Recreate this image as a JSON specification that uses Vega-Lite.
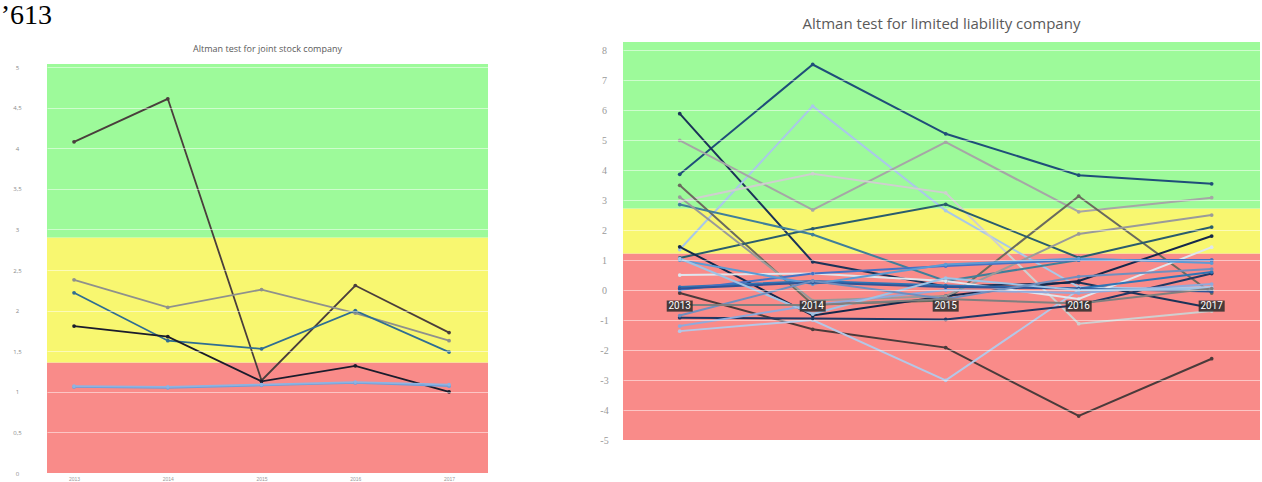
{
  "$schema": "https://vega.github.io/schema/vega-lite/v6.json",
  "background": "white",
  "padding": {"left": 0, "top": 2, "right": 0, "bottom": 0},
  "title": {"text": "’613", "anchor": "start", "font": "Liberation Serif", "fontSize": 28, "fontWeight": "normal", "color": "#000000", "offset": -13, "dx": -12},
  "spacing": 135,
  "bounds": "flush",
  "resolve": {"scale": {"x": "independent", "y": "independent", "fill": "independent", "color": "independent"}},
  "config": {"view": {"stroke": null}, "axis": {"labelOverlap": false}},
  "datasets": {
    "leftBands": [
      {"zone": "distress", "lo": 0, "hi": 1.36},
      {"zone": "grey", "lo": 1.36, "hi": 2.9},
      {"zone": "safe", "lo": 2.9, "hi": 5.04}
    ],
    "rightBands": [
      {"zone": "distress", "lo": -5, "hi": 1.22},
      {"zone": "grey", "lo": 1.22, "hi": 2.72},
      {"zone": "safe", "lo": 2.72, "hi": 8.27}
    ],
    "years": [{"year": "2013"}, {"year": "2014"}, {"year": "2015"}, {"year": "2016"}, {"year": "2017"}],
    "joint": [
      {"series": "s1", "year": "2013", "value": 4.08}, {"series": "s1", "year": "2014", "value": 4.61}, {"series": "s1", "year": "2015", "value": 1.14}, {"series": "s1", "year": "2016", "value": 2.31}, {"series": "s1", "year": "2017", "value": 1.73},
      {"series": "s2", "year": "2013", "value": 2.38}, {"series": "s2", "year": "2014", "value": 2.04}, {"series": "s2", "year": "2015", "value": 2.26}, {"series": "s2", "year": "2016", "value": 1.97}, {"series": "s2", "year": "2017", "value": 1.63},
      {"series": "s3", "year": "2013", "value": 2.22}, {"series": "s3", "year": "2014", "value": 1.63}, {"series": "s3", "year": "2015", "value": 1.53}, {"series": "s3", "year": "2016", "value": 2.0}, {"series": "s3", "year": "2017", "value": 1.49},
      {"series": "s4", "year": "2013", "value": 1.81}, {"series": "s4", "year": "2014", "value": 1.68}, {"series": "s4", "year": "2015", "value": 1.13}, {"series": "s4", "year": "2016", "value": 1.32}, {"series": "s4", "year": "2017", "value": 1.0},
      {"series": "s5", "year": "2013", "value": 1.06}, {"series": "s5", "year": "2014", "value": 1.05}, {"series": "s5", "year": "2015", "value": 1.08}, {"series": "s5", "year": "2016", "value": 1.11}, {"series": "s5", "year": "2017", "value": 1.07},
      {"series": "s6", "year": "2013", "value": 1.07}, {"series": "s6", "year": "2014", "value": 1.06}, {"series": "s6", "year": "2015", "value": 1.09}, {"series": "s6", "year": "2016", "value": 1.12}, {"series": "s6", "year": "2017", "value": 1.09}
    ],
    "llc": [
      {"series": "r01", "year": "2013", "value": 3.86}, {"series": "r01", "year": "2014", "value": 7.52}, {"series": "r01", "year": "2015", "value": 5.21}, {"series": "r01", "year": "2016", "value": 3.83}, {"series": "r01", "year": "2017", "value": 3.54},
      {"series": "r02", "year": "2013", "value": 5.88}, {"series": "r02", "year": "2014", "value": 0.94}, {"series": "r02", "year": "2015", "value": 0.12}, {"series": "r02", "year": "2016", "value": 0.25}, {"series": "r02", "year": "2017", "value": -0.6},
      {"series": "r03", "year": "2013", "value": 1.35}, {"series": "r03", "year": "2014", "value": 6.13}, {"series": "r03", "year": "2015", "value": 2.65}, {"series": "r03", "year": "2016", "value": 0.1}, {"series": "r03", "year": "2017", "value": 0.0},
      {"series": "r04", "year": "2013", "value": 4.99}, {"series": "r04", "year": "2014", "value": 2.67}, {"series": "r04", "year": "2015", "value": 4.93}, {"series": "r04", "year": "2016", "value": 2.61}, {"series": "r04", "year": "2017", "value": 3.08},
      {"series": "r05", "year": "2013", "value": 2.95}, {"series": "r05", "year": "2014", "value": 3.88}, {"series": "r05", "year": "2015", "value": 3.24}, {"series": "r05", "year": "2016", "value": -1.12}, {"series": "r05", "year": "2017", "value": -0.7},
      {"series": "r06", "year": "2013", "value": 3.49}, {"series": "r06", "year": "2014", "value": -0.48}, {"series": "r06", "year": "2015", "value": -0.35}, {"series": "r06", "year": "2016", "value": 3.13}, {"series": "r06", "year": "2017", "value": -0.1},
      {"series": "r07", "year": "2013", "value": 1.07}, {"series": "r07", "year": "2014", "value": 2.04}, {"series": "r07", "year": "2015", "value": 2.86}, {"series": "r07", "year": "2016", "value": 1.08}, {"series": "r07", "year": "2017", "value": 2.1},
      {"series": "r08", "year": "2013", "value": 2.85}, {"series": "r08", "year": "2014", "value": 1.85}, {"series": "r08", "year": "2015", "value": 0.3}, {"series": "r08", "year": "2016", "value": 1.0}, {"series": "r08", "year": "2017", "value": 1.0},
      {"series": "r09", "year": "2013", "value": -0.1}, {"series": "r09", "year": "2014", "value": -1.31}, {"series": "r09", "year": "2015", "value": -1.92}, {"series": "r09", "year": "2016", "value": -4.2}, {"series": "r09", "year": "2017", "value": -2.29},
      {"series": "r10", "year": "2013", "value": -1.37}, {"series": "r10", "year": "2014", "value": -1.0}, {"series": "r10", "year": "2015", "value": -3.01}, {"series": "r10", "year": "2016", "value": 0.0}, {"series": "r10", "year": "2017", "value": 0.1},
      {"series": "r11", "year": "2013", "value": -0.92}, {"series": "r11", "year": "2014", "value": -0.95}, {"series": "r11", "year": "2015", "value": -0.98}, {"series": "r11", "year": "2016", "value": -0.5}, {"series": "r11", "year": "2017", "value": 0.55},
      {"series": "r12", "year": "2013", "value": 1.44}, {"series": "r12", "year": "2014", "value": -0.85}, {"series": "r12", "year": "2015", "value": -0.2}, {"series": "r12", "year": "2016", "value": 0.3}, {"series": "r12", "year": "2017", "value": 1.8},
      {"series": "r13", "year": "2013", "value": 3.1}, {"series": "r13", "year": "2014", "value": -0.35}, {"series": "r13", "year": "2015", "value": -0.2}, {"series": "r13", "year": "2016", "value": 1.87}, {"series": "r13", "year": "2017", "value": 2.5},
      {"series": "r14", "year": "2013", "value": 0.5}, {"series": "r14", "year": "2014", "value": 0.55}, {"series": "r14", "year": "2015", "value": 0.3}, {"series": "r14", "year": "2016", "value": -0.3}, {"series": "r14", "year": "2017", "value": 1.43},
      {"series": "r15", "year": "2013", "value": 0.1}, {"series": "r15", "year": "2014", "value": 0.3}, {"series": "r15", "year": "2015", "value": 0.15}, {"series": "r15", "year": "2016", "value": 0.05}, {"series": "r15", "year": "2017", "value": 0.6},
      {"series": "r16", "year": "2013", "value": 0.0}, {"series": "r16", "year": "2014", "value": 0.55}, {"series": "r16", "year": "2015", "value": 0.8}, {"series": "r16", "year": "2016", "value": 1.0}, {"series": "r16", "year": "2017", "value": 1.0},
      {"series": "r17", "year": "2013", "value": 1.0}, {"series": "r17", "year": "2014", "value": 0.2}, {"series": "r17", "year": "2015", "value": 0.85}, {"series": "r17", "year": "2016", "value": 1.05}, {"series": "r17", "year": "2017", "value": 0.9},
      {"series": "r18", "year": "2013", "value": -1.2}, {"series": "r18", "year": "2014", "value": -0.5}, {"series": "r18", "year": "2015", "value": 0.0}, {"series": "r18", "year": "2016", "value": -0.1}, {"series": "r18", "year": "2017", "value": 0.2},
      {"series": "r19", "year": "2013", "value": 0.05}, {"series": "r19", "year": "2014", "value": 0.25}, {"series": "r19", "year": "2015", "value": 0.1}, {"series": "r19", "year": "2016", "value": 0.05}, {"series": "r19", "year": "2017", "value": -0.05},
      {"series": "r20", "year": "2013", "value": 1.05}, {"series": "r20", "year": "2014", "value": -0.8}, {"series": "r20", "year": "2015", "value": 0.4}, {"series": "r20", "year": "2016", "value": 0.0}, {"series": "r20", "year": "2017", "value": 0.05},
      {"series": "r21", "year": "2013", "value": -0.85}, {"series": "r21", "year": "2014", "value": 0.3}, {"series": "r21", "year": "2015", "value": -0.3}, {"series": "r21", "year": "2016", "value": 0.45}, {"series": "r21", "year": "2017", "value": 0.7},
      {"series": "r22", "year": "2013", "value": -0.5}, {"series": "r22", "year": "2014", "value": -0.5}, {"series": "r22", "year": "2015", "value": -0.3}, {"series": "r22", "year": "2016", "value": -0.45}, {"series": "r22", "year": "2017", "value": 0.05}
    ]
  },
  "hconcat": [
    {
      "width": 441,
      "height": 431,
      "title": {"text": "Altman test for joint stock company", "font": "Open Sans", "fontSize": 9, "fontWeight": "normal", "color": "#5a5a5a", "offset": -12, "anchor": "middle"},
      "layer": [
        {
          "data": {"name": "leftBands"},
          "mark": {"type": "rect"},
          "encoding": {
            "y": {"field": "lo", "type": "quantitative", "scale": {"domain": [0, 5.31], "nice": false, "zero": false},
                  "axis": {"values": [0, 0.5, 1, 1.5, 2, 2.5, 3, 3.5, 4, 4.5, 5], "tickCount": 20, "labelExpr": "replace(format(datum.value, '.1~f'), '.', ',')", "labelOverlap": false, "grid": true, "gridColor": "#ffffff", "gridOpacity": 0.5, "domain": false, "ticks": false, "tickSize": 0, "labelPadding": 30, "labelAlign": "center", "labelFontSize": 6, "labelColor": "#8a8a8a", "labelFont": "Open Sans", "title": null, "zindex": 1}},
            "y2": {"field": "hi"},
            "fill": {"field": "zone", "type": "nominal", "scale": {"domain": ["distress", "grey", "safe"], "range": ["#f98b89", "#f8f770", "#9dfa9a"]}, "legend": null}
          }
        },
        {
          "data": {"name": "joint"},
          "mark": {"type": "line", "strokeWidth": 1.8, "point": {"filled": true, "size": 14}},
          "encoding": {
            "x": {"field": "year", "type": "ordinal", "scale": {"type": "point", "padding": 0.352, "align": 0.41},
                  "axis": {"labelFontSize": 5, "labelColor": "#9a9a9a", "ticks": false, "domain": false, "title": null, "labelAngle": 0, "labelPadding": 3, "grid": false}},
            "y": {"field": "value", "type": "quantitative", "scale": {"domain": [0, 5.31], "nice": false, "zero": false}},
            "color": {"field": "series", "type": "nominal", "scale": {"domain": ["s1", "s2", "s3", "s4", "s5", "s6"], "range": ["#4a3e3c", "#8f918c", "#2f6e93", "#1a1c2c", "#6f9fd8", "#8db3e2"]}, "legend": null}
          }
        }
      ]
    },
    {
      "width": 637,
      "height": 398,
      "title": {"text": "Altman test for limited liability company", "font": "Open Sans", "fontSize": 15, "fontWeight": "normal", "color": "#5a5a5a", "offset": 10, "anchor": "middle"},
      "layer": [
        {
          "data": {"name": "rightBands"},
          "mark": {"type": "rect"},
          "encoding": {
            "y": {"field": "lo", "type": "quantitative", "scale": {"domain": [-5, 8.27], "nice": false, "zero": false},
                  "axis": {"values": [-5, -4, -3, -2, -1, 0, 1, 2, 3, 4, 5, 6, 7, 8], "tickCount": 20, "labelExpr": "replace(format(datum.value, 'd'), '−', '-')", "labelOverlap": false, "grid": true, "gridColor": "#ffffff", "gridOpacity": 0.5, "domain": false, "ticks": false, "tickSize": 0, "labelPadding": 19, "labelAlign": "center", "labelFontSize": 10, "labelColor": "#9a9a9a", "labelFont": "Liberation Serif", "title": null, "zindex": 1}},
            "y2": {"field": "hi"},
            "fill": {"field": "zone", "type": "nominal", "scale": {"domain": ["distress", "grey", "safe"], "range": ["#f98b89", "#f8f770", "#9dfa9a"]}, "legend": null}
          }
        },
        {
          "data": {"name": "llc"},
          "mark": {"type": "line", "strokeWidth": 2, "point": {"filled": true, "size": 14}},
          "encoding": {
            "x": {"field": "year", "type": "ordinal", "scale": {"type": "point", "padding": 0.395, "align": 0.54}, "axis": null},
            "y": {"field": "value", "type": "quantitative", "scale": {"domain": [-5, 8.27], "nice": false, "zero": false}},
            "color": {"field": "series", "type": "nominal",
                      "scale": {"domain": ["r01", "r02", "r03", "r04", "r05", "r06", "r07", "r08", "r09", "r10", "r11", "r12", "r13", "r14", "r15", "r16", "r17", "r18", "r19", "r20", "r21", "r22"],
                                "range": ["#1f4e79", "#1b3358", "#a9c8e8", "#a6a6a6", "#cfcfcf", "#6b6b5e", "#2a5d6e", "#3f7f9a", "#4a3b3b", "#b4c7e7", "#203864", "#14284b", "#9a9a9a", "#dfe6ee", "#2e75b6", "#4472c4", "#5b9bd5", "#8faadc", "#2f5597", "#9dc3e6", "#6f8fbf", "#7f7f7f"]},
                      "legend": null}
          }
        },
        {
          "data": {"name": "years"},
          "mark": {"type": "bar", "size": 26, "color": "#2b2b2b", "opacity": 0.85},
          "encoding": {
            "x": {"field": "year", "type": "ordinal", "scale": {"type": "point", "padding": 0.395, "align": 0.54}, "axis": null},
            "y": {"datum": -0.35, "type": "quantitative", "scale": {"domain": [-5, 8.27], "nice": false, "zero": false}},
            "y2": {"datum": -0.72}
          }
        },
        {
          "data": {"name": "years"},
          "mark": {"type": "text", "color": "#ffffff", "fontSize": 10, "font": "Roboto", "baseline": "middle"},
          "encoding": {
            "x": {"field": "year", "type": "ordinal", "scale": {"type": "point", "padding": 0.395, "align": 0.54}, "axis": null},
            "y": {"datum": -0.53, "type": "quantitative", "scale": {"domain": [-5, 8.27], "nice": false, "zero": false}},
            "text": {"field": "year"}
          }
        }
      ]
    }
  ]
}
